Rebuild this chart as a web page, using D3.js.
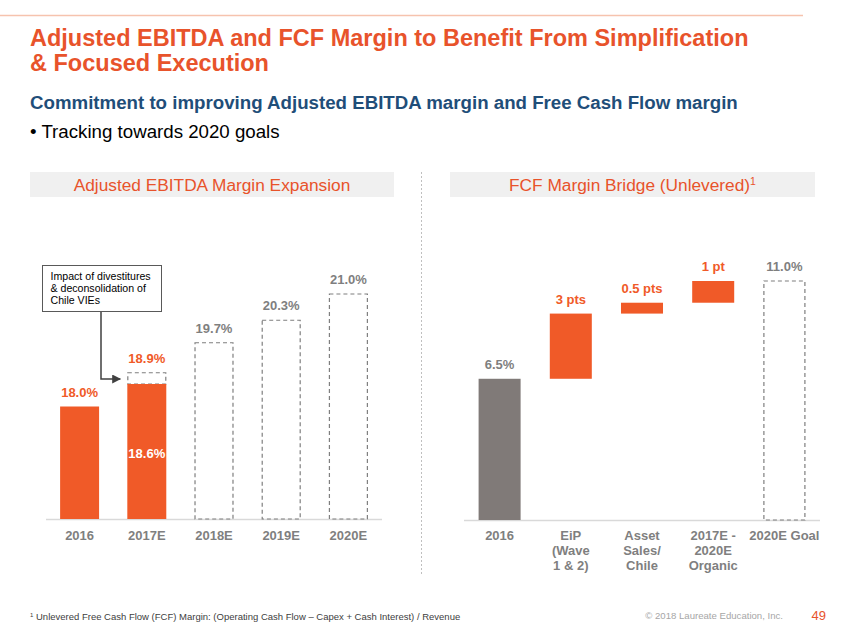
<!DOCTYPE html>
<html><head><meta charset="utf-8">
<script src="https://cdn.jsdelivr.net/npm/d3@7"></script>
<style>
body{margin:0;background:#fff;}
svg{display:block;font-family:"Liberation Sans",Arial,sans-serif;}
</style></head>
<body>
<script>
// ---- data ----
const ebitdaCats = ["2016","2017E","2018E","2019E","2020E"];
const ebitdaActual = [18.0, 18.6, null, null, null];      // solid orange
const ebitdaTarget = [null, 18.9, 19.7, 20.3, 21.0];       // dashed outline
const ebitdaLabels = ["18.0%", "18.9%", "19.7%", "20.3%", "21.0%"];
const ebitdaInnerLabel = "18.6%";

const fcfCats = [["2016"],["EiP","(Wave","1 & 2)"],["Asset","Sales/","Chile"],["2017E -","2020E","Organic"],["2020E Goal"]];
const fcfStart = 6.5;
const fcfSteps = [3, 0.5, 1];
const fcfGoal = 11.0;
const fcfLabels = ["6.5%","3 pts","0.5 pts","1 pt","11.0%"];

const ORANGE = "#F05A28", TITLE = "#E8532B", GREY = "#7F7F7F", BLUE = "#1F4E79";

const W = 847, H = 635;
const svg = d3.select("body").append("svg").attr("width", W).attr("height", H);

// header
svg.append("line").attr("x1",0).attr("x2",803).attr("y1",15.5).attr("y2",15.5)
  .attr("stroke","#F6C3AE").attr("stroke-width",1.5);
svg.append("text").attr("x",30).attr("y",46).attr("fill",TITLE)
  .attr("font-size",23.5).attr("font-weight","bold")
  .text("Adjusted EBITDA and FCF Margin to Benefit From Simplification");
svg.append("text").attr("x",30).attr("y",71).attr("fill",TITLE)
  .attr("font-size",23.5).attr("font-weight","bold").text("& Focused Execution");
svg.append("text").attr("x",30).attr("y",109).attr("fill",BLUE)
  .attr("font-size",18.7).attr("font-weight","bold")
  .text("Commitment to improving Adjusted EBITDA margin and Free Cash Flow margin");
svg.append("text").attr("x",30).attr("y",138).attr("fill","#000")
  .attr("font-size",18.7).text("\u2022 Tracking towards 2020 goals");

// panel headers
function panelTitle(x0, x1, txt, sup){
  svg.append("rect").attr("x",x0).attr("y",172).attr("width",x1-x0).attr("height",25).attr("fill","#F0F0F0");
  const t = svg.append("text").attr("x",(x0+x1)/2).attr("y",191).attr("text-anchor","middle")
    .attr("fill",TITLE).attr("font-size",17.3).text(txt);
  if (sup) t.append("tspan").attr("font-size",10.5).attr("dy",-6).text(sup);
}
panelTitle(30, 394, "Adjusted EBITDA Margin Expansion");
panelTitle(450, 815, "FCF Margin Bridge (Unlevered)", "1");

// divider
svg.append("line").attr("x1",421.5).attr("x2",421.5).attr("y1",172).attr("y2",576)
  .attr("stroke","#BFBFBF").attr("stroke-dasharray","2,2");

// ---- left chart ----
const xL = d3.scaleBand().domain(ebitdaCats).range([46,382]).paddingInner(0.42).paddingOuter(0.21);
const yL = d3.scaleLinear().domain([15, 21]).range([519, 294]);
const gL = svg.append("g");
gL.append("line").attr("x1",46).attr("x2",382).attr("y1",519.5).attr("y2",519.5).attr("stroke","#D9D9D9").attr("stroke-width",1.5);

// dashed target bars
ebitdaCats.forEach((c,i)=>{
  const v = ebitdaTarget[i]; if (v==null) return;
  const base = ebitdaActual[i]!=null ? ebitdaActual[i] : 15;
  gL.append("rect").attr("x",xL(c)+0.5).attr("y",yL(v)).attr("width",xL.bandwidth()-1)
    .attr("height",yL(base)-yL(v)).attr("fill","none").attr("stroke",GREY)
    .attr("stroke-width",1.2).attr("stroke-dasharray","4,3");
});
// solid bars
ebitdaCats.forEach((c,i)=>{
  const v = ebitdaActual[i]; if (v==null) return;
  gL.append("rect").attr("x",xL(c)).attr("y",yL(v)).attr("width",xL.bandwidth())
    .attr("height",yL(15)-yL(v)).attr("fill",ORANGE);
});
// labels
ebitdaCats.forEach((c,i)=>{
  const top = ebitdaTarget[i]!=null ? ebitdaTarget[i] : ebitdaActual[i];
  gL.append("text").attr("x",xL(c)+xL.bandwidth()/2).attr("y",yL(top)-10)
    .attr("text-anchor","middle").attr("font-size",13).attr("font-weight","bold")
    .attr("fill", i<2 ? ORANGE : GREY).text(ebitdaLabels[i]);
  gL.append("text").attr("x",xL(c)+xL.bandwidth()/2).attr("y",540)
    .attr("text-anchor","middle").attr("font-size",13).attr("font-weight","bold")
    .attr("fill",GREY).text(c);
});
gL.append("text").attr("x",xL("2017E")+xL.bandwidth()/2).attr("y",458)
  .attr("text-anchor","middle").attr("font-size",13).attr("font-weight","bold")
  .attr("fill","#fff").text(ebitdaInnerLabel);

// annotation
svg.append("defs").append("marker").attr("id","arr").attr("viewBox","0 0 10 10")
  .attr("refX",9).attr("refY",5).attr("markerWidth",6).attr("markerHeight",6).attr("orient","auto")
  .append("path").attr("d","M0,0L10,5L0,10z").attr("fill","#404040");
gL.append("rect").attr("x",42.5).attr("y",265.5).attr("width",119).attr("height",46)
  .attr("fill","#fff").attr("stroke","#595959");
["Impact of divestitures","& deconsolidation of","Chile VIEs"].forEach((t,i)=>{
  gL.append("text").attr("x",50.5).attr("y",280+i*11.8).attr("font-size",10.6).attr("fill","#000").text(t);
});
gL.append("path").attr("d",`M101,312V${yL(18.6)-5}H${xL("2017E")-7}`)
  .attr("fill","none").attr("stroke","#404040").attr("stroke-width",1.5).attr("marker-end","url(#arr)");

// ---- right chart ----
const xR = d3.scaleBand().domain(d3.range(fcfCats.length)).range([464,820]).paddingInner(0.41).paddingOuter(0.205);
const yR = d3.scaleLinear().domain([0, 11]).range([520, 281]);
const gR = svg.append("g");
gR.append("line").attr("x1",464).attr("x2",820).attr("y1",520.5).attr("y2",520.5).attr("stroke","#D9D9D9").attr("stroke-width",1.5);

const segs = [];
segs.push({lo:0, hi:fcfStart, type:"start"});
let cum = fcfStart;
fcfSteps.forEach(s=>{ segs.push({lo:cum, hi:cum+s, type:"step"}); cum += s; });
segs.push({lo:0, hi:fcfGoal, type:"goal"});

segs.forEach((s,i)=>{
  const r = gR.append("rect").attr("x",xR(i)).attr("y",yR(s.hi)).attr("width",xR.bandwidth())
    .attr("height",yR(s.lo)-yR(s.hi));
  if (s.type==="start") r.attr("fill","#807A78");
  else if (s.type==="step") r.attr("fill",ORANGE);
  else r.attr("x",xR(i)+0.5).attr("width",xR.bandwidth()-1).attr("fill","none").attr("stroke",GREY)
        .attr("stroke-width",1.2).attr("stroke-dasharray","4,3");
  gR.append("text").attr("x",xR(i)+xR.bandwidth()/2).attr("y",yR(s.hi)-10)
    .attr("text-anchor","middle").attr("font-size",13).attr("font-weight","bold")
    .attr("fill", s.type==="step" ? ORANGE : GREY).text(fcfLabels[i]);
  fcfCats[i].forEach((ln,j)=>{
    gR.append("text").attr("x",xR(i)+xR.bandwidth()/2).attr("y",540+j*15)
      .attr("text-anchor","middle").attr("font-size",13).attr("font-weight","bold")
      .attr("fill",GREY).text(ln);
  });
});

// footer
const ft = svg.append("text").attr("x",30).attr("y",620).attr("font-size",9.5).attr("fill","#404040");
ft.append("tspan").attr("font-size",6).attr("dy",-3).text("1");
ft.append("tspan").attr("dy",3).text(" Unlevered Free Cash Flow (FCF) Margin:  (Operating Cash Flow \u2013 Capex + Cash Interest) / Revenue");
svg.append("text").attr("x",783).attr("y",619).attr("text-anchor","end").attr("font-size",9.6)
  .attr("fill","#A6A6A6").text("\u00A9 2018 Laureate Education, Inc.");
svg.append("text").attr("x",826).attr("y",620).attr("text-anchor","end").attr("font-size",13)
  .attr("fill",TITLE).text("49");
</script>
</body></html>
